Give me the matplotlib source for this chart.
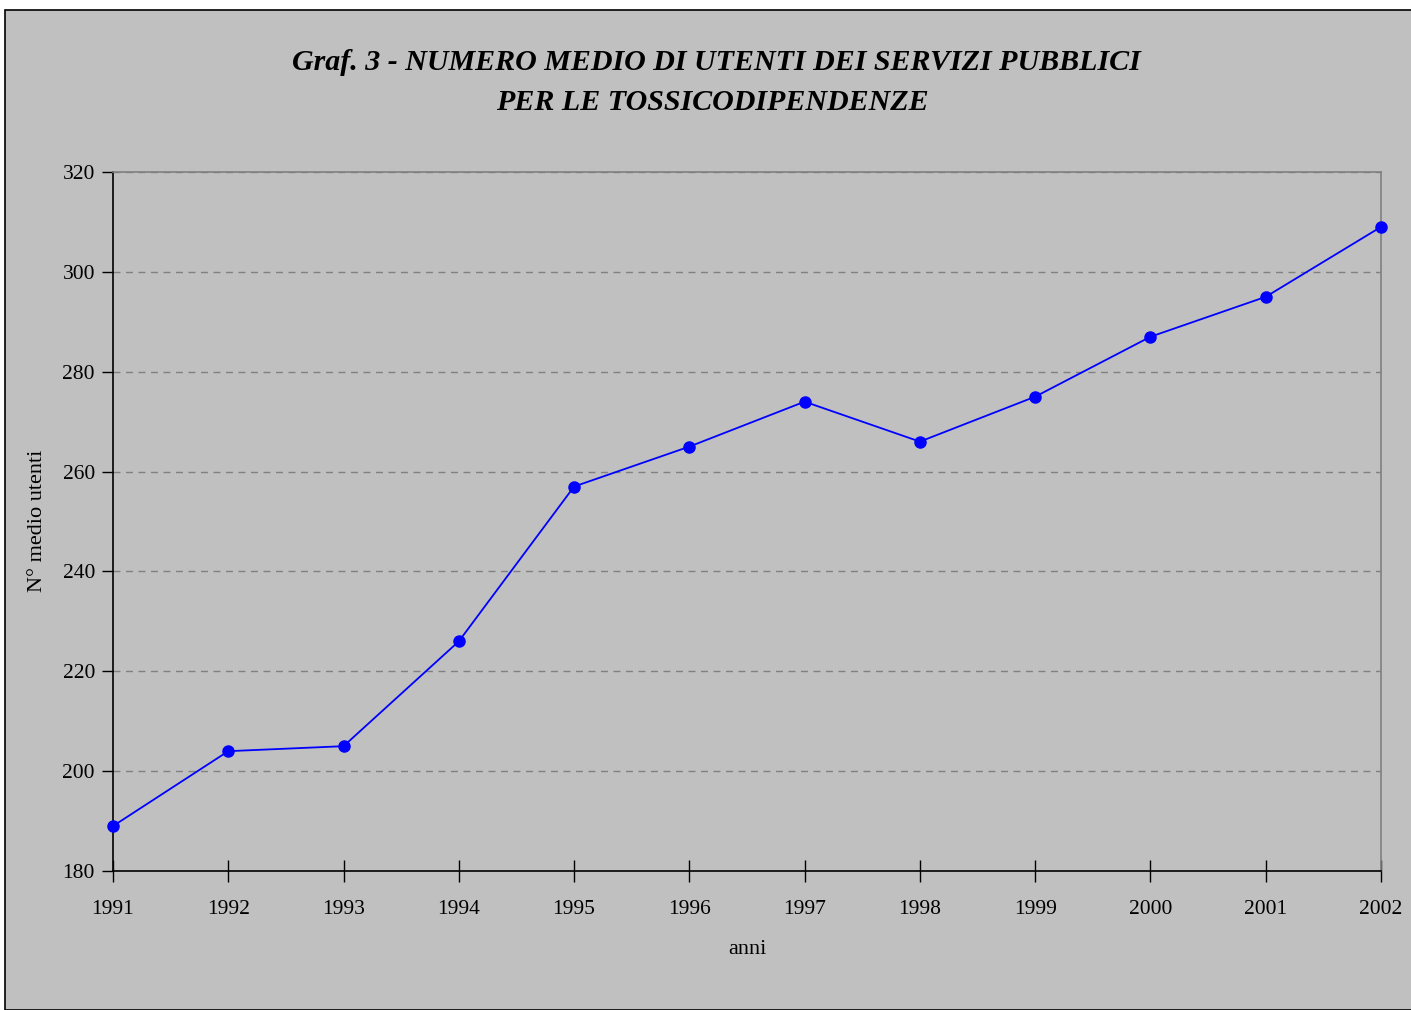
import matplotlib
matplotlib.use("Agg")
import matplotlib.pyplot as plt
from matplotlib.patches import Rectangle

years = [1991, 1992, 1993, 1994, 1995, 1996, 1997, 1998, 1999, 2000, 2001, 2002]
utenti = [189, 204, 205, 226, 257, 265, 274, 266, 275, 287, 295, 309]
yticks = [180, 200, 220, 240, 260, 280, 300, 320]

W, H = 1411, 1010
fig = plt.figure(figsize=(W / 100, H / 100), dpi=100)
fig.patch.set_facecolor("white")
fig.patches.append(Rectangle((5 / W, 0), 1.2, 1 - 10 / H, transform=fig.transFigure,
                             facecolor="#C0C0C0", edgecolor="black", linewidth=1.2, zorder=-10))

serif = ["Liberation Serif", "DejaVu Serif"]
ax = fig.add_axes([113 / W, 1 - 871 / H, (1381 - 113) / W, (871 - 172) / H])
ax.set_facecolor("#C0C0C0")
x = list(range(len(years)))
ax.plot(x, utenti, color="#0000FF", linewidth=1.3, marker="o", markersize=8, zorder=3, clip_on=False)
ax.set_xlim(0, len(years) - 1)
ax.set_ylim(180, 320)
ax.set_xticks(x)
ax.set_xticklabels([str(y) for y in years], fontfamily=serif, fontsize=15.5)
ax.set_yticks(yticks)
ax.set_yticklabels([str(v) for v in yticks], fontfamily=serif, fontsize=15.5)
ax.tick_params(axis="x", direction="inout", length=16, width=1, pad=13, colors="black")
ax.tick_params(axis="y", direction="out", length=8, width=1, pad=5, colors="black")
ax.yaxis.grid(True, linestyle=(0, (5, 4)), color="#808080", linewidth=1)
ax.set_axisbelow(True)
for s in ["top", "right"]:
    ax.spines[s].set_color("#808080")
    ax.spines[s].set_linewidth(1.2)
for s in ["bottom", "left"]:
    ax.spines[s].set_color("black")
    ax.spines[s].set_linewidth(1.2)

ax.set_xlabel("anni", fontfamily=serif, fontsize=16)
ax.set_ylabel("N° medio utenti", fontfamily=serif, fontsize=16)
ax.xaxis.label.set_va("center")
ax.yaxis.label.set_va("center")
ax.xaxis.set_label_coords((747 - 113) / 1268, (871 - 950) / 699)
ax.yaxis.set_label_coords((37 - 113) / 1268, (871 - 521) / 699)

fig.text(716 / W, 1 - 62 / H, "Graf. 3 - NUMERO MEDIO DI UTENTI DEI SERVIZI PUBBLICI",
         ha="center", va="center", fontfamily=serif, fontsize=21.6, fontweight="bold", fontstyle="italic")
fig.text(712 / W, 1 - 102 / H, "PER LE TOSSICODIPENDENZE",
         ha="center", va="center", fontfamily=serif, fontsize=21.6, fontweight="bold", fontstyle="italic")

fig.savefig("out.png", dpi=100, facecolor=fig.get_facecolor())
